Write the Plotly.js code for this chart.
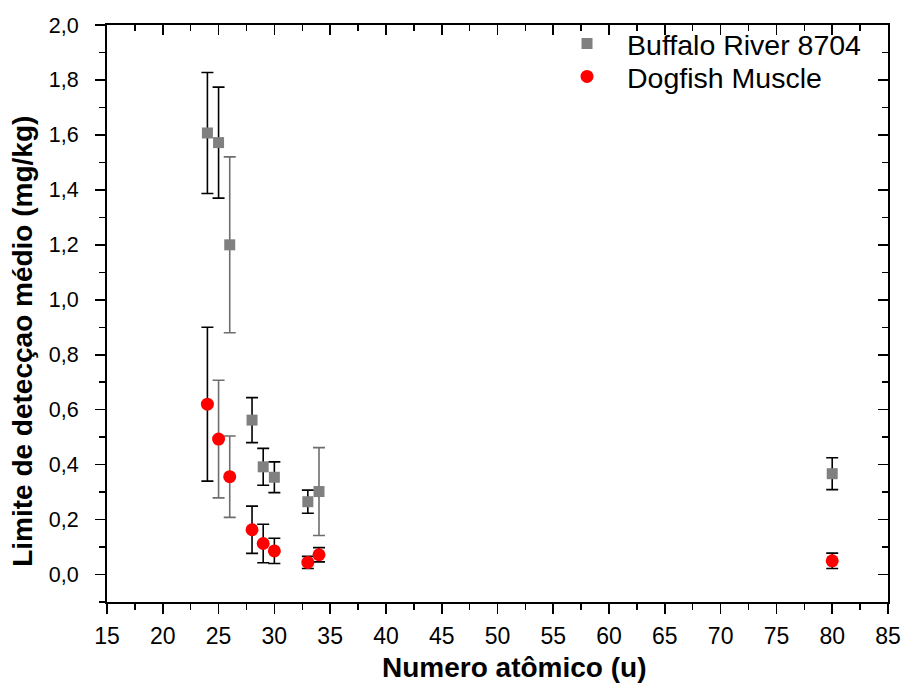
<!DOCTYPE html>
<html>
<head>
<meta charset="utf-8">
<script src="https://cdn.plot.ly/plotly-3.0.1.min.js"></script>
<style>html,body{margin:0;padding:0;background:#fff;}#chart{width:904px;height:695px;}</style>
</head>
<body>
<div id="chart"></div>
<script>
// Atomic numbers
const buffaloX = [24, 25, 26, 28, 29, 30, 33, 34, 80];
const buffaloY = [1.607, 1.572, 1.200, 0.562, 0.392, 0.354, 0.265, 0.302, 0.367];
const buffaloErr = [0.220, 0.202, 0.320, 0.082, 0.067, 0.056, 0.042, 0.160, 0.058];
const dogfishX = [24, 25, 26, 28, 29, 30, 33, 34, 80];
const dogfishY = [0.620, 0.493, 0.356, 0.163, 0.113, 0.086, 0.044, 0.072, 0.050];
const dogfishErr = [0.280, 0.214, 0.148, 0.086, 0.070, 0.046, 0.022, 0.026, 0.028];
const seriesNames = ["Buffalo River 8704", "Dogfish Muscle"];
const xTitle = "Numero atômico (u)";
const yTitle = "Limite de detecçao médio (mg/kg)";
// which error bars are drawn in grey in the original
const buffaloGreyErr = [false, false, true, false, false, false, false, true, false];
const dogfishGreyErr = [false, true, true, false, false, false, false, false, false];

const FONT = "Liberation Sans, Arial, sans-serif";

function pick(arr, mask, want) { return arr.filter((_, i) => mask[i] === want); }

function errTrace(x, y, e, mask, want, color) {
  return {
    x: pick(x, mask, want), y: pick(y, mask, want), type: "scatter", mode: "markers",
    marker: {color: "rgba(0,0,0,0)", size: 1},
    error_y: {type: "data", array: pick(e, mask, want), visible: true, color: color, thickness: 1.6, width: 6},
    showlegend: false, hoverinfo: "skip"
  };
}

const traces = [
  errTrace(buffaloX, buffaloY, buffaloErr, buffaloGreyErr, false, "#000000"),
  errTrace(buffaloX, buffaloY, buffaloErr, buffaloGreyErr, true, "#6e6e6e"),
  errTrace(dogfishX, dogfishY, dogfishErr, dogfishGreyErr, false, "#000000"),
  errTrace(dogfishX, dogfishY, dogfishErr, dogfishGreyErr, true, "#6e6e6e"),
  {x: buffaloX, y: buffaloY, type: "scatter", mode: "markers", name: seriesNames[0], legend: "legend",
   marker: {symbol: "square", size: 11, color: "#808080"}},
  {x: dogfishX, y: dogfishY, type: "scatter", mode: "markers", name: seriesNames[1], legend: "legend2",
   marker: {symbol: "circle", size: 13, color: "#ff0000"}},
  {x: [buffaloX[0]], y: [buffaloY[0]], xaxis: "x2", yaxis: "y2", type: "scatter", mode: "markers",
   marker: {color: "rgba(0,0,0,0)"}, showlegend: false, hoverinfo: "skip"}
];

const axisCommon = {
  showline: true, linecolor: "#000", linewidth: 2, showgrid: false, zeroline: false,
  tickcolor: "#000", tickwidth: 1.6, ticklen: 10,
  tickfont: {family: FONT, size: 23, color: "#000"}
};

const legendCommon = {
  xanchor: "left", yanchor: "middle",
  bgcolor: "rgba(0,0,0,0)", borderwidth: 0,
  font: {family: FONT, size: 28.5, color: "#000"},
  itemwidth: 70
};

const layout = {
  width: 904, height: 695,
  margin: {l: 107, r: 16, t: 25, b: 93},
  paper_bgcolor: "#fff", plot_bgcolor: "#fff",
  separators: ",.",
  font: {family: FONT, color: "#000"},
  xaxis: Object.assign({}, axisCommon, {
    range: [15, 85], dtick: 5, tick0: 15, ticks: "outside", ticklabelstandoff: 2,
    minor: {dtick: 2.5, ticks: "outside", ticklen: 6, tickcolor: "#000", tickwidth: 1.4}
  }),
  yaxis: Object.assign({}, axisCommon, {
    range: [-0.1, 2.0], dtick: 0.2, tick0: 0, ticks: "outside", tickformat: ".1f", ticklabelstandoff: 12,
    tickfont: {family: FONT, size: 21.5, color: "#000"},
    minor: {dtick: 0.1, ticks: "outside", ticklen: 6, tickcolor: "#000", tickwidth: 1.4}
  }),
  xaxis2: Object.assign({}, axisCommon, {
    overlaying: "x", side: "top", matches: "x", range: [15, 85], dtick: 5, tick0: 15,
    ticks: "inside", showticklabels: false,
    minor: {dtick: 2.5, ticks: "inside", ticklen: 6, tickcolor: "#000", tickwidth: 1.4}
  }),
  yaxis2: Object.assign({}, axisCommon, {
    overlaying: "y", side: "right", range: [-0.1, 2.0], dtick: 0.2, tick0: 0,
    ticks: "inside", showticklabels: false,
    minor: {dtick: 0.1, ticks: "inside", ticklen: 6, tickcolor: "#000", tickwidth: 1.4}
  }),
  legend: Object.assign({}, legendCommon, {x: 0.5634, y: 0.967}),
  legend2: Object.assign({}, legendCommon, {x: 0.5634, y: 0.91}),
  annotations: [
    {text: xTitle, xref: "paper", yref: "paper", x: 0.521, y: -0.114, xanchor: "center", yanchor: "middle",
     showarrow: false, font: {family: FONT, size: 28, color: "#000", weight: "bold"}},
    {text: yTitle, xref: "paper", yref: "paper", x: -0.108, y: 0.452, xanchor: "center", yanchor: "middle",
     textangle: -90, showarrow: false, font: {family: FONT, size: 28, color: "#000", weight: "bold"}}
  ],
  showlegend: true
};

Plotly.newPlot("chart", traces, layout, {displayModeBar: false, staticPlot: true});
</script>
</body>
</html>
